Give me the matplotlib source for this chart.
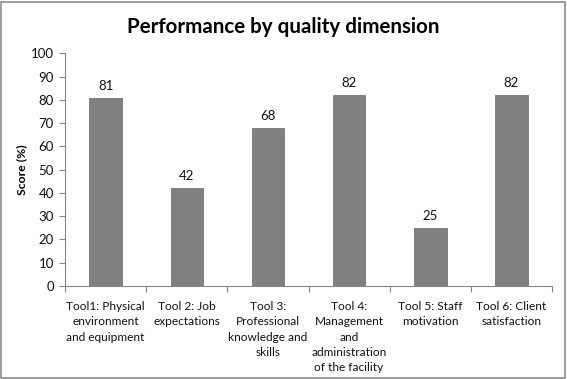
import matplotlib
matplotlib.use("Agg")
import matplotlib.pyplot as plt
from matplotlib.patches import Rectangle
import numpy as np

categories = [
    "Tool1: Physical\nenvironment\nand equipment",
    "Tool 2: Job\nexpectations",
    "Tool 3:\nProfessional\nknowledge and\nskills",
    "Tool 4:\nManagement\nand\nadministration\nof the facility",
    "Tool 5: Staff\nmotivation",
    "Tool 6: Client\nsatisfaction",
]
scores = [81, 42, 68, 82, 25, 82]
y_ticks = list(range(0, 101, 10))

plt.rcParams["font.family"] = ["Lato", "DejaVu Sans"]

fig = plt.figure(figsize=(5.67, 3.79), dpi=100)
fig.patches.append(Rectangle((0.002, 0.003), 0.995, 0.993, transform=fig.transFigure,
                             fill=False, edgecolor="#8c8c8c", linewidth=1.2))
ax = fig.add_axes([0.1146, 0.246, 0.859, 0.613])

x = np.arange(len(categories))
ax.bar(x, scores, width=0.4, color="#808080", edgecolor="#767676", linewidth=0.6)
for xi, v in zip(x, scores):
    ax.text(xi, v + 2.5, f"{v}", ha="center", va="bottom", fontsize=9.5, color="#111111")

ax.set_xlim(-0.5, len(categories) - 0.5)
ax.set_ylim(0, 100)
ax.set_yticks(y_ticks)
ax.tick_params(axis="y", labelsize=9.5, length=4, color="#868686", pad=4, labelcolor="#111111")
ax.set_xticks(np.arange(-0.5, len(categories)))
ax.set_xticklabels([])
ax.tick_params(axis="x", length=4, color="#868686")
ax.set_xticks(x, minor=True)
ax.set_xticklabels(categories, minor=True, fontsize=8.6, color="#111111", linespacing=1.48)
ax.tick_params(axis="x", which="minor", length=0, pad=11)

for side in ["top", "right"]:
    ax.spines[side].set_visible(False)
for side in ["left", "bottom"]:
    ax.spines[side].set_color("#868686")
    ax.spines[side].set_linewidth(0.8)

ax.set_ylabel("Score (%)", fontsize=8.8, fontweight="bold")
ax.yaxis.set_label_coords(-0.078, 0.5)
fig.text(0.5, 0.928, "Performance by quality dimension", ha="center", va="center",
         fontsize=14.8, fontweight="bold")

fig.savefig("out.png", dpi=100)
